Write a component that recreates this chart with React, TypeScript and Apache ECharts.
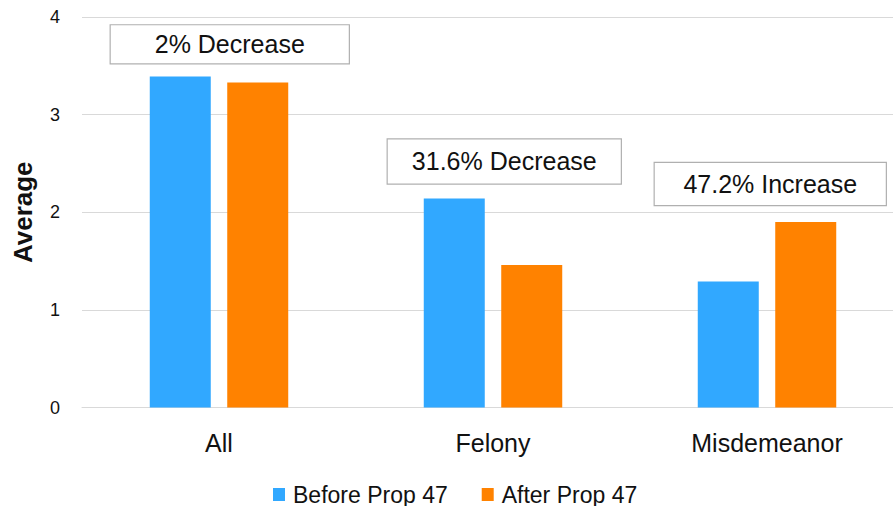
import React, { useEffect, useRef } from "react";
import * as echarts from "echarts";

const categories = ["All", "Felony", "Misdemeanor"];
const beforeValues = [3.39, 2.14, 1.29];
const afterValues = [3.33, 1.46, 1.9];
const seriesNames = ["Before Prop 47", "After Prop 47"];
const annotationTexts = ["2% Decrease", "31.6% Decrease", "47.2% Increase"];
const annotationValues = [3.72, 2.52, 2.29];

const FONT = "'Liberation Sans', Arial, sans-serif";

export default function App() {
  const ref = useRef<HTMLDivElement>(null);
  useEffect(() => {
    if (!ref.current) return;
    const chart = echarts.init(ref.current, null, { renderer: "svg" });
    const boxStyles = [
      { width: 238, height: 38, offset: [49.5, 0] },
      { width: 233, height: 44, offset: [50, 0] },
      { width: 231, height: 42, offset: [42, 0] },
    ];
    chart.setOption({
      animation: false,
      textStyle: { fontFamily: FONT },
      grid: { left: 82, top: 17, right: 0, bottom: 98.5, containLabel: false },
      legend: {
        data: seriesNames,
        left: 273,
        top: 483,
        padding: 0,
        itemWidth: 12,
        itemHeight: 13,
        itemGap: 34,
        icon: "rect",
        textStyle: { fontSize: 23, color: "#111", fontFamily: FONT, padding: [0, 0, 0, 3] },
      },
      xAxis: {
        type: "category",
        data: categories,
        axisTick: { show: false },
        axisLine: { lineStyle: { color: "#d9d9d9", width: 1 } },
        axisLabel: { fontSize: 25, color: "#111", margin: 23, fontFamily: FONT },
      },
      yAxis: {
        type: "value",
        min: 0,
        max: 4,
        interval: 1,
        name: "Average",
        nameLocation: "middle",
        nameRotate: 90,
        nameGap: 46,
        nameTextStyle: { fontSize: 26, fontWeight: "bold", color: "#111", fontFamily: FONT },
        axisLine: { show: false },
        axisTick: { show: false },
        axisLabel: { fontSize: 18, color: "#111", margin: 22, fontFamily: FONT },
        splitLine: { lineStyle: { color: "#d9d9d9", width: 1 } },
      },
      series: [
        {
          name: seriesNames[0],
          type: "bar",
          data: beforeValues,
          barWidth: 61,
          barGap: "27%",
          itemStyle: { color: "#31A8FF" },
          markPoint: {
            symbol: "rect",
            symbolSize: 0,
            data: annotationTexts.map((t, i) => ({
              coord: [i, annotationValues[i]],
              value: t,
              label: {
                show: true,
                position: "inside",
                offset: boxStyles[i].offset,
                formatter: t,
                fontSize: 25,
                color: "#111",
                fontFamily: FONT,
                backgroundColor: "#fff",
                borderColor: "#b0b0b0",
                borderWidth: 1.2,
                width: boxStyles[i].width,
                height: boxStyles[i].height,
                lineHeight: boxStyles[i].height,
                align: "center",
                verticalAlign: "middle",
              },
            })),
          },
        },
        {
          name: seriesNames[1],
          type: "bar",
          data: afterValues,
          barWidth: 61,
          barGap: "27%",
          itemStyle: { color: "#FF8200" },
        },
      ],
    });
    return () => chart.dispose();
  }, []);
  return (
    <div
      style={{ position: "fixed", left: 0, top: 0, width: 893, height: 506, overflow: "hidden", background: "#fff" }}
    >
      <div ref={ref} style={{ width: 904, height: 506 }} />
    </div>
  );
}
